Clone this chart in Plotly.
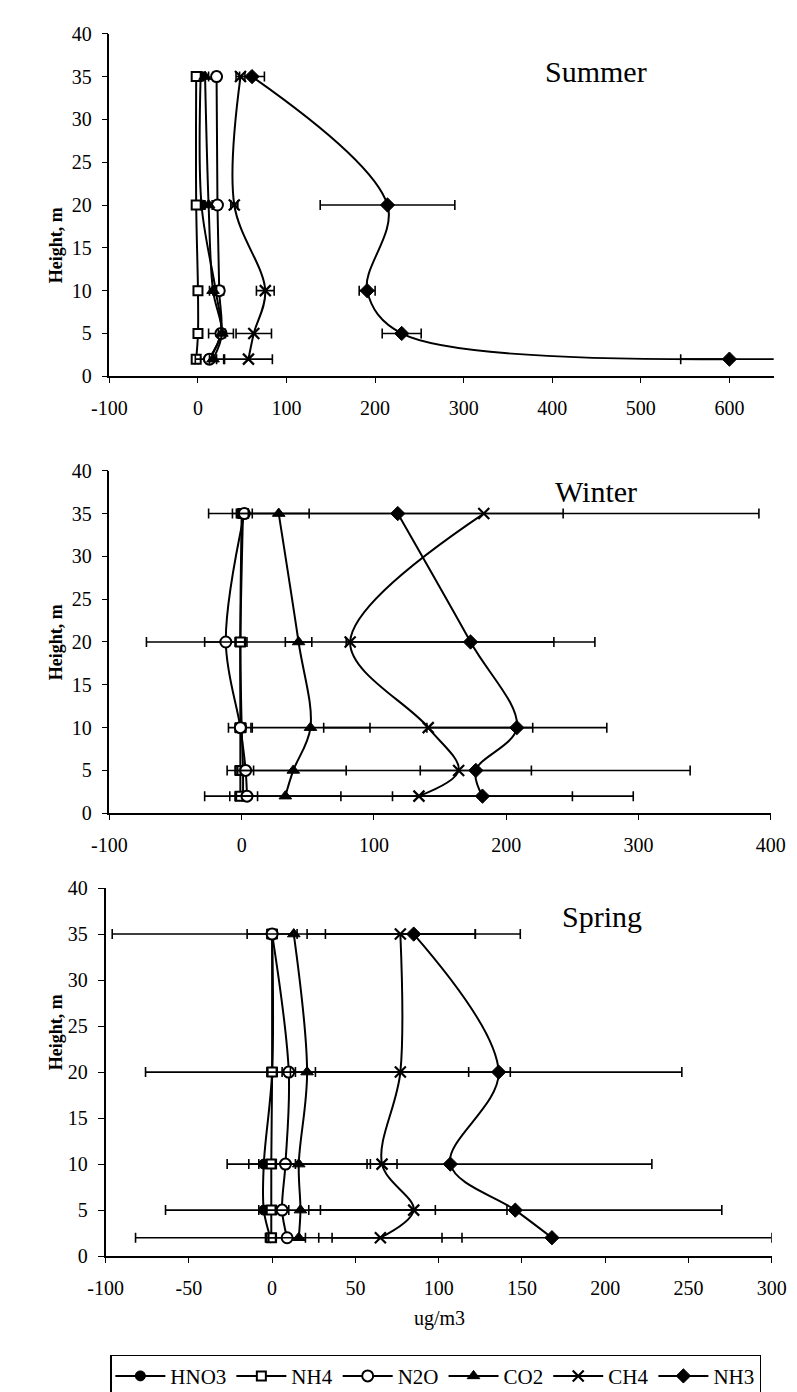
import plotly.graph_objects as go

# ---------------- data ----------------
heights = [2, 5, 10, 20, 35]
series_names = ["HNO3", "NH4", "N2O", "CO2", "CH4", "NH3"]
season_names = ["Summer", "Winter", "Spring"]

# Summer (ug/m3 at heights 2, 5, 10, 20, 35 m)
summer_HNO3 = [12, 26, 20, 4, 3]
summer_NH4 = [-2, 0, 0, -2, -2]
summer_N2O = [13, 26, 24, 22, 21]
summer_CO2 = [17, 27, 17, 12, 8]
summer_CH4 = [57, 63, 76, 41, 48]
summer_NH3 = [600, 230, 191, 214, 61]
summer_HNO3_err = [3, 3, 3, 3, 3]
summer_NH4_err = [2, 2, 2, 2, 2]
summer_N2O_err = [16, 14, 5, 4, 4]
summer_CO2_err = [4, 4, 4, 4, 4]
summer_CH4_err = [27, 20, 10, 4, 5]
summer_NH3_err = [55, 22, 9, 76, 14]

# Winter
winter_HNO3 = [1, 1, 0, -1, 0]
winter_NH4 = [-1, -1, -1, -1, 1]
winter_N2O = [4, 3, -1, -12, 2]
winter_CO2 = [33, 39, 52, 43, 28]
winter_CH4 = [134, 164, 141, 82, 183]
winter_NH3 = [182, 177, 208, 173, 118]
winter_HNO3_err = [3, 3, 3, 3, 3]
winter_NH4_err = [4, 4, 4, 4, 4]
winter_N2O_err = [8, 6, 9, 16, 6]
winter_CO2_err = [42, 40, 45, 10, 23]
winter_CH4_err = [162, 175, 79, 154, 208]
winter_NH3_err = [68, 42, 68, 94, 125]

# Spring
spring_HNO3 = [-1, -5, -5, 0, 0]
spring_NH4 = [-0.5, -0.5, -0.5, 0, 0]
spring_N2O = [9, 6, 8, 10, 0]
spring_CO2 = [16, 17, 16, 21, 13]
spring_CH4 = [65, 85, 66, 77, 77]
spring_NH3 = [168, 146, 107, 136, 85]
spring_HNO3_err = [3, 3, 3, 3, 3]
spring_NH4_err = [3, 3, 3, 3, 3]
spring_N2O_err = [11, 4, 6, 4, 15]
spring_CO2_err = [98, 81, 43, 97, 109]
spring_CH4_err = [37, 56, 9, 66, 45]
spring_NH3_err = [132, 124, 121, 110, 64]

x_ranges = [[-100, 650], [-100, 400], [-100, 300]]
summer_xticks = [-100, 0, 100, 200, 300, 400, 500, 600]
winter_xticks = [-100, 0, 100, 200, 300, 400]
spring_xticks = [-100, -50, 0, 50, 100, 150, 200, 250, 300]
y_ticks = [0, 5, 10, 15, 20, 25, 30, 35, 40]
x_ticks = [summer_xticks, winter_xticks, spring_xticks]

seasons = {
    "Summer": ([summer_HNO3, summer_NH4, summer_N2O, summer_CO2, summer_CH4, summer_NH3],
               [summer_HNO3_err, summer_NH4_err, summer_N2O_err, summer_CO2_err, summer_CH4_err, summer_NH3_err]),
    "Winter": ([winter_HNO3, winter_NH4, winter_N2O, winter_CO2, winter_CH4, winter_NH3],
               [winter_HNO3_err, winter_NH4_err, winter_N2O_err, winter_CO2_err, winter_CH4_err, winter_NH3_err]),
    "Spring": ([spring_HNO3, spring_NH4, spring_N2O, spring_CO2, spring_CH4, spring_NH3],
               [spring_HNO3_err, spring_NH4_err, spring_N2O_err, spring_CO2_err, spring_CH4_err, spring_NH3_err]),
}

# ---------------- style ----------------
W, H = 797, 1392
FONT = "Liberation Serif, Times New Roman, serif"

markers = {
    "HNO3": dict(symbol="circle", size=10, color="black", line=dict(color="black", width=1)),
    "NH4": dict(symbol="square", size=9, color="white", line=dict(color="black", width=2)),
    "N2O": dict(symbol="circle", size=11, color="white", line=dict(color="black", width=2)),
    "CO2": dict(symbol="triangle-up", size=11, color="black", line=dict(color="black", width=1)),
    "CH4": dict(symbol="x-thin", size=11, color="black", line=dict(color="black", width=2.2)),
    "NH3": dict(symbol="diamond", size=11, color="black", line=dict(color="black", width=1)),
}

# panel pixel boxes: (left, right, top, bottom)
boxes = [(87, 780, 15, 363), (87, 777, 459, 807), (83, 778, 883, 1257)]
title_pos = [(650, 35), (639, 480), (645, 912)]


def px2x(px):
    return px / W


def px2y(py):
    return 1 - py / H


def label(v):
    return ("-" + str(abs(v))) if v < 0 else str(v)


fig = go.Figure()

for i, season in enumerate(season_names):
    vals, errs = seasons[season]
    xa = "x" if i == 0 else f"x{i+1}"
    ya = "y" if i == 0 else f"y{i+1}"
    for name, v, e in zip(series_names, vals, errs):
        fig.add_trace(go.Scatter(
            x=v, y=heights, name=name, xaxis=xa, yaxis=ya,
            mode="lines+markers",
            line=dict(color="black", width=2, shape="spline", smoothing=1.0),
            marker=markers[name],
            error_x=dict(type="data", array=e, visible=True, color="black",
                         thickness=1.6, width=5),
            showlegend=(i == 0), legendgroup=name,
            cliponaxis=False,
        ))

layout = dict(
    width=W, height=H,
    margin=dict(l=0, r=0, t=0, b=0),
    paper_bgcolor="white", plot_bgcolor="white",
    font=dict(family=FONT, size=20, color="black"),
    showlegend=True,
    legend=dict(orientation="h", x=px2x(88), y=px2y(1357), xanchor="left", yanchor="top",
                bordercolor="black", borderwidth=1.2, font=dict(family=FONT, size=21, color="black"),
                itemwidth=50, tracegroupgap=0, bgcolor="white"),
    annotations=[],
)

for i, (l, r, t, b) in enumerate(boxes):
    sx = "" if i == 0 else str(i + 1)
    layout["xaxis" + sx] = dict(
        domain=[px2x(l), px2x(r)], range=x_ranges[i], anchor="y" + sx,
        tickmode="array", tickvals=x_ticks[i], ticktext=[label(v) for v in x_ticks[i]],
        showgrid=False, zeroline=False,
        showline=True, linecolor="black", linewidth=1.5,
        ticks="outside", ticklen=5, tickwidth=1.2, tickcolor="black",
        tickfont=dict(family=FONT, size=20, color="black"), ticklabelstandoff=8,
    )
    layout["yaxis" + sx] = dict(
        domain=[px2y(b), px2y(t)], range=[0, 40], anchor="x" + sx,
        tickmode="array", tickvals=y_ticks, ticktext=[str(v) for v in y_ticks],
        showgrid=False, zeroline=False,
        showline=True, linecolor="black", linewidth=1.5,
        ticks="outside", ticklen=6, tickwidth=1.2, tickcolor="black",
        tickfont=dict(family=FONT, size=20, color="black"), ticklabelstandoff=6,
    )
    layout["annotations"].append(dict(
        text="<b>Height, m</b>", textangle=-90, x=px2x(19), y=px2y((t + b) / 2),
        xref="paper", yref="paper", showarrow=False,
        font=dict(family=FONT, size=18, color="black"),
    ))
    tx, ty = title_pos[i]
    layout["annotations"].append(dict(
        text=season_names[i], x=px2x(tx), y=px2y(ty), xref="paper", yref="paper",
        showarrow=False, font=dict(family=FONT, size=30, color="black"),
    ))

layout["annotations"].append(dict(
    text="ug/m3", x=px2x(431), y=px2y(1334), xref="paper", yref="paper",
    showarrow=False, font=dict(family=FONT, size=20, color="black"),
))

fig.update_layout(**layout)
fig.write_html("out.html")
